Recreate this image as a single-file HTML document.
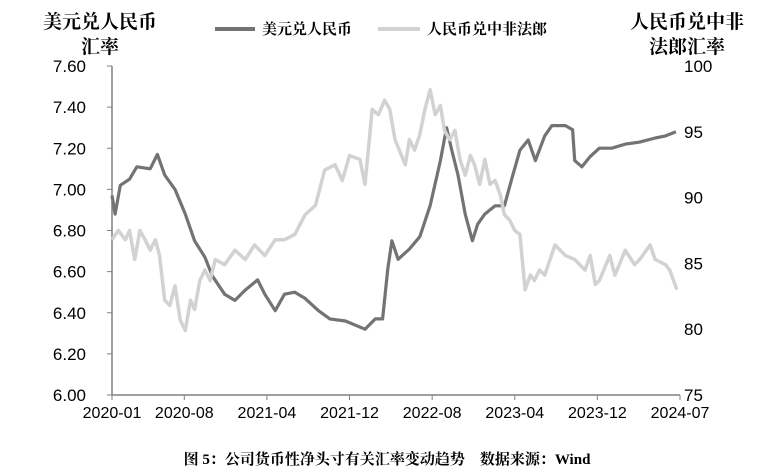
<!DOCTYPE html>
<html><head><meta charset="utf-8"><style>
body{margin:0;background:#fff;width:780px;height:471px;overflow:hidden}
svg text{font-family:"Liberation Sans","Noto Sans CJK SC",sans-serif}
.t{font-family:"Liberation Serif","Noto Serif CJK SC",serif;font-weight:bold}
</style></head><body>
<svg id="chart" width="780" height="471" xmlns="http://www.w3.org/2000/svg">
<text class="t" x="100" y="28" font-size="19" text-anchor="middle">美元兑人民币</text>
<text class="t" x="100" y="53" font-size="19" text-anchor="middle">汇率</text>
<text class="t" x="687" y="28" font-size="19" text-anchor="middle">人民币兑中非</text>
<text class="t" x="687" y="53" font-size="19" text-anchor="middle">法郎汇率</text>
<g>
<line x1="215" y1="29" x2="255" y2="29" stroke="#737373" stroke-width="4"/>
<text class="t" x="262" y="34" font-size="15" font-weight="normal">美元兑人民币</text>
<line x1="378" y1="29" x2="420" y2="29" stroke="#d2d2d2" stroke-width="4"/>
<text class="t" x="427" y="34" font-size="15" font-weight="normal">人民币兑中非法郎</text>
</g>
<g id="axes"></g>
<g id="marks"></g>
<text class="t" x="387" y="464" font-size="15" text-anchor="middle" style="white-space:pre" xml:space="preserve">图 5：公司货币性净头寸有关汇率变动趋势    数据来源：Wind</text>
</svg>
<script>
const leftTicks=["6.00","6.20","6.40","6.60","6.80","7.00","7.20","7.40","7.60"];
const rightTicks=["75","80","85","90","95","100"];
const xTickLabels=["2020-01","2020-08","2021-04","2021-12","2022-08","2023-04","2023-12","2024-07"];
const xTickMonths=[0,7,15,23,31,39,47,55];
const usdMonths=[0,0.3,0.8,1.7,2.4,3.7,4.4,5.1,6.1,7.1,8.0,9.0,9.7,10.9,11.9,12.9,14.1,14.8,15.8,16.7,17.7,18.7,20.0,21.1,22.6,24.5,25.5,26.2,26.7,27.1,27.7,28.8,29.8,30.8,31.8,32.4,32.9,33.5,34.2,34.9,35.4,36.1,37.1,38.0,38.7,39.5,40.3,41.0,41.9,42.6,43.9,44.6,44.8,45.5,46.3,47.2,48.4,49.7,51.1,52.6,53.6,54.6];
const usdValues=[6.97,6.88,7.02,7.05,7.11,7.10,7.17,7.07,7.00,6.88,6.75,6.67,6.58,6.49,6.46,6.51,6.56,6.49,6.41,6.49,6.50,6.47,6.41,6.37,6.36,6.32,6.37,6.37,6.61,6.75,6.66,6.71,6.77,6.92,7.14,7.30,7.19,7.07,6.88,6.75,6.83,6.88,6.92,6.92,7.05,7.19,7.24,7.14,7.26,7.31,7.31,7.29,7.14,7.11,7.16,7.20,7.20,7.22,7.23,7.25,7.26,7.28];
const xafMonths=[0,0.6,1.3,1.7,2.2,2.7,3.2,3.7,4.2,4.6,5.1,5.6,6.1,6.6,7.1,7.6,8.0,8.5,9.0,9.5,10.0,10.9,11.9,12.9,13.8,14.8,15.8,16.7,17.7,18.7,19.7,20.6,21.6,22.3,23.0,24.0,24.5,25.2,25.8,26.4,26.9,27.4,28.4,28.8,29.3,29.8,30.3,30.8,31.3,31.8,32.2,32.7,33.2,33.7,34.2,34.7,35.1,35.6,36.1,36.6,37.1,37.6,38.0,38.5,39.0,39.5,40.0,40.5,40.9,41.4,41.9,42.9,43.9,44.8,45.8,46.3,46.8,47.2,48.2,48.7,49.7,50.6,51.1,52.1,52.6,53.6,54.0,54.7];
const xafValues=[86.8,87.5,86.8,87.5,85.3,87.5,86.8,86.0,86.8,85.6,82.2,81.8,83.3,80.7,79.9,82.2,81.5,83.7,84.5,83.7,85.3,84.9,86.0,85.3,86.4,85.6,86.8,86.8,87.2,88.7,89.4,92.1,92.5,91.3,93.2,92.9,91.0,96.7,96.3,97.4,96.7,94.4,92.5,94.4,93.6,94.8,96.7,98.2,96.3,97.0,95.1,94.4,95.1,92.9,91.7,93.2,92.5,91.0,92.9,91.0,91.3,90.2,88.7,88.3,87.5,87.2,83.0,84.1,83.7,84.5,84.1,86.4,85.6,85.3,84.5,85.6,83.4,83.7,85.6,84.1,86.0,84.9,85.3,86.4,85.3,84.9,84.5,83.0];
const X0=112,X1=680,Y0=66,Y1=395;
const x=m=>X0+m*(X1-X0)/55;
const yL=v=>Y1-(v-6)/1.6*(Y1-Y0);
const yR=v=>Y1-(v-75)/25*(Y1-Y0);
const NS="http://www.w3.org/2000/svg";
const axes=document.getElementById('axes'),marks=document.getElementById('marks');
function mk(tag,attrs,parent){const e=document.createElementNS(NS,tag);for(const k in attrs)e.setAttribute(k,attrs[k]);parent.appendChild(e);return e;}
let e=mk('line',{x1:X0,y1:Y0,x2:X0,y2:Y1,stroke:'#808080','stroke-width':1.5},axes);


e=mk('line',{x1:X0,y1:Y1,x2:X1,y2:Y1,stroke:'#808080','stroke-width':1.5},axes);


leftTicks.forEach(t=>{const yy=yL(parseFloat(t));
 mk('line',{x1:X0-5,y1:yy,x2:X0,y2:yy,stroke:'#808080'},axes);
 const tx=mk('text',{x:86,y:yy+6,'font-size':17,'text-anchor':'end'},axes);tx.textContent=t;
 
 });
rightTicks.forEach(t=>{const yy=yR(parseFloat(t));
 const tx=mk('text',{x:684,y:yy+6,'font-size':17},axes);tx.textContent=t;
 
 });
xTickLabels.forEach((t,i)=>{const xx=x(xTickMonths[i]);
 mk('line',{x1:xx,y1:Y1,x2:xx,y2:Y1+5,stroke:'#808080'},axes);
 const tx=mk('text',{x:xx,y:418,'font-size':16,'text-anchor':'middle'},axes);tx.textContent=t;
 
 });
function path(ms,vs,f){return ms.map((m,i)=>(i?'L':'M')+x(m).toFixed(1)+','+f(vs[i]).toFixed(1)).join('');}
e=mk('path',{d:path(usdMonths,usdValues,yL),fill:'none',stroke:'#737373','stroke-width':3.2,'stroke-linejoin':'round'},marks);


e=mk('path',{d:path(xafMonths,xafValues,yR),fill:'none',stroke:'#d2d2d2','stroke-width':3.5,'stroke-linejoin':'round'},marks);


</script>
</body></html>
